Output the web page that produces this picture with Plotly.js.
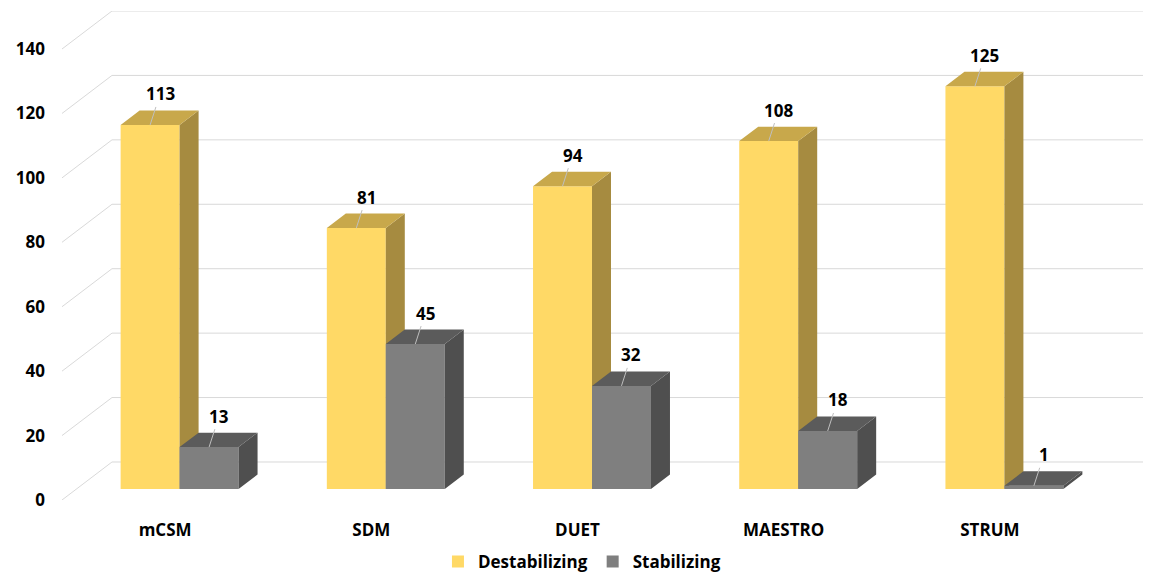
<!DOCTYPE html>
<html>
<head>
<meta charset="utf-8">
<script src="https://cdn.plot.ly/plotly-3.0.1.min.js"></script>
<style>
  html, body { margin: 0; padding: 0; background: #ffffff; }
  #chart { width: 1151px; height: 574px; }
</style>
</head>
<body>
<div id="chart"></div>
<script>
// Predicted effect of mutations per tool
const categories = ['mCSM', 'SDM', 'DUET', 'MAESTRO', 'STRUM'];
const destabilizing = [113, 81, 94, 108, 125];
const stabilizing = [13, 45, 32, 18, 1];
const yTicks = [0, 20, 40, 60, 80, 100, 120, 140];

// Oblique projection of the floor depth, in axis units
const DEPTH_X = 0.2424;   // horizontal shift of the back wall (category units)
const DEPTH_Y = 11.8;     // vertical shift of the back wall (value units)
const FRONT_Z = 0.29;     // depth fraction where bar fronts sit
const BACK_Z = 0.67;      // depth fraction where bar backs sit
const BAR_W = 0.286;      // width of one bar (category units)

const X_MIN = -0.5, X_MAX = categories.length - 0.5 + DEPTH_X;
const Y_MAX = yTicks[yTicks.length - 1] + DEPTH_Y;

const FONT = { family: 'Open Sans, Lato, sans-serif', size: 17, color: '#000000', weight: 'bold' };

const series = [
  { name: 'Destabilizing', values: destabilizing, shift: -BAR_W, axes: ['x', 'y'],
    front: '#FFD966', top: '#C8A84B', side: '#A68B40' },
  { name: 'Stabilizing', values: stabilizing, shift: 0, axes: ['x2', 'y2'],
    front: '#7F7F7F', top: '#5B5B5B', side: '#4F4F4F' }
];

const base = FRONT_Z * DEPTH_Y;
const dx = (BACK_Z - FRONT_Z) * DEPTH_X;
const dy = (BACK_Z - FRONT_Z) * DEPTH_Y;

const traces = [];
const annotations = [];

series.forEach(s => {
  const idx = categories.map((_, i) => i);
  // front faces, also carrying the legend entry
  traces.push({
    type: 'bar', name: s.name, x: idx, y: s.values, base: base,
    offset: FRONT_Z * DEPTH_X + s.shift, width: BAR_W,
    marker: { color: s.front, line: { width: 0 } },
    xaxis: s.axes[0], yaxis: s.axes[1], hoverinfo: 'skip'
  });

  const topX = [], topY = [], sideX = [], sideY = [];
  s.values.forEach((v, i) => {
    const x0 = i + FRONT_Z * DEPTH_X + s.shift;
    const x1 = x0 + BAR_W;
    const yt = base + v;
    topX.push(x0, x1, x1 + dx, x0 + dx, x0, null);
    topY.push(yt, yt, yt + dy, yt + dy, yt, null);
    sideX.push(x1, x1 + dx, x1 + dx, x1, x1, null);
    sideY.push(base, base + dy, yt + dy, yt, base, null);

    annotations.push({
      x: x0 + BAR_W / 2, y: yt, xref: s.axes[0], yref: s.axes[1],
      text: String(v), font: FONT,
      showarrow: true, arrowhead: 0, arrowwidth: 1, arrowcolor: '#BFBFBF',
      ax: 10, ay: -31, standoff: 0
    });
  });

  traces.push({
    type: 'scatter', mode: 'lines', x: sideX, y: sideY, fill: 'toself',
    fillcolor: s.side, line: { width: 0, color: s.side },
    xaxis: s.axes[0], yaxis: s.axes[1], showlegend: false, hoverinfo: 'skip'
  });
  traces.push({
    type: 'scatter', mode: 'lines', x: topX, y: topY, fill: 'toself',
    fillcolor: s.top, line: { width: 0, color: s.top },
    xaxis: s.axes[0], yaxis: s.axes[1], showlegend: false, hoverinfo: 'skip'
  });
});

// back-wall gridlines with their slanted side-wall continuations
const shapes = [];
yTicks.forEach(t => {
  shapes.push({
    type: 'line', layer: 'below', xref: 'x', yref: 'y',
    x0: X_MIN + DEPTH_X, y0: t + DEPTH_Y, x1: X_MAX, y1: t + DEPTH_Y,
    line: { color: '#D9D9D9', width: 1 }
  });
  shapes.push({
    type: 'line', layer: 'below', xref: 'x', yref: 'y',
    x0: X_MIN, y0: t, x1: X_MIN + DEPTH_X, y1: t + DEPTH_Y,
    line: { color: '#D9D9D9', width: 1 }
  });
});

const hiddenX = { range: [X_MIN, X_MAX], visible: false, overlaying: 'x', fixedrange: true };
const hiddenY = { range: [0, Y_MAX], visible: false, overlaying: 'y', fixedrange: true };

const layout = {
  width: 1151, height: 574,
  margin: { l: 62, r: 8, t: 11, b: 74, autoexpand: false },
  paper_bgcolor: '#FFFFFF', plot_bgcolor: '#FFFFFF',
  barmode: 'overlay',
  showlegend: true,
  legend: {
    orientation: 'h', x: 0.481, xanchor: 'center',
    y: 0.021, yref: 'container', yanchor: 'middle',
    font: FONT, traceorder: 'normal'
  },
  xaxis: {
    range: [X_MIN, X_MAX], tickvals: categories.map((_, i) => i), ticktext: categories,
    showgrid: false, zeroline: false, showline: false, ticks: '',
    tickfont: FONT, ticklabelstandoff: 18, fixedrange: true, automargin: false
  },
  yaxis: {
    range: [0, Y_MAX], tickvals: yTicks, ticktext: yTicks.map(String),
    showgrid: false, zeroline: false, showline: false, ticks: '',
    tickfont: FONT, ticklabelstandoff: 16, fixedrange: true, automargin: false
  },
  xaxis2: hiddenX,
  yaxis2: hiddenY,
  shapes: shapes,
  annotations: annotations
};

Plotly.newPlot('chart', traces, layout, { staticPlot: true, displayModeBar: false });
</script>
</body>
</html>
